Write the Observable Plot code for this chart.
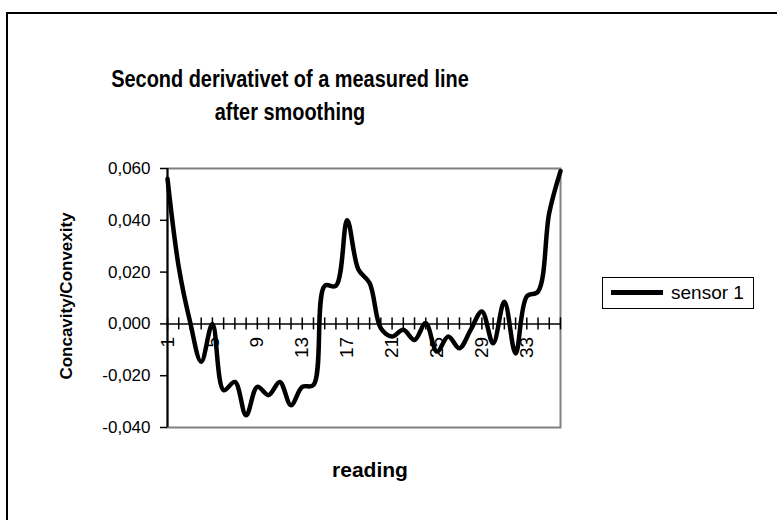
<!DOCTYPE html>
<html>
<head>
<meta charset="utf-8">
<script src="https://cdn.jsdelivr.net/npm/d3@7"></script>
<script src="https://cdn.jsdelivr.net/npm/@observablehq/plot@0.6"></script>
<style>
  html, body { margin: 0; padding: 0; background: #fff; }
  #wrap { position: relative; width: 777px; height: 520px; overflow: hidden; font-family: Arial, "Liberation Sans", sans-serif; }
  #border { position: absolute; left: 6px; top: 12px; width: 900px; height: 700px; border-left: 2px solid #000; border-top: 2px solid #000; }
  #title { position: absolute; left: 40px; width: 500px; top: 62px; text-align: center; font-weight: bold; font-size: 24px; line-height: 33px; color: #000; transform: scaleX(0.83); transform-origin: 250px 0; }
  #ytitle { position: absolute; left: 67px; top: 296px; transform: translate(-50%, -50%) rotate(-90deg); white-space: nowrap; font-weight: bold; font-size: 17px; color: #000; }
  #xtitle { position: absolute; left: 370px; top: 470px; transform: translate(-50%, -50%); white-space: nowrap; font-weight: bold; font-size: 21px; color: #000; }
  #legend { position: absolute; left: 602px; top: 277px; width: 150px; height: 30px; border: 1px solid #000; background: #fff; }
  #legend .sw { position: absolute; left: 8px; top: 12px; width: 52px; height: 5px; background: #000; }
  #legend .lb { position: absolute; left: 68px; top: 3px; font-size: 19px; line-height: 24px; color: #000; }
  #chart { position: absolute; left: 0; top: 0; }
</style>
</head>
<body>
<div id="wrap">
  <div id="border"></div>
  <div id="chart"></div>
  <div id="title">Second derivativet of a measured line<br>after smoothing</div>
  <div id="ytitle">Concavity/Convexity</div>
  <div id="xtitle">reading</div>
  <div id="legend"><div class="sw"></div><div class="lb">sensor 1</div></div>
</div>
<script>
const readings = d3.range(1, 37);
const sensor1 = [0.056, 0.022, 0.001, -0.0146, 0.000, -0.0256, -0.0224, -0.0353, -0.0243, -0.0275,
                 -0.0224, -0.0314, -0.0243, -0.0236, 0.0147, 0.0147, 0.040, 0.021, 0.0158, -0.0017,
                 -0.0049, -0.0023, -0.0062, 0.0003, -0.0107, -0.0049, -0.0094, -0.0023, 0.0048, -0.0075,
                 0.0086, -0.0114, 0.0106, 0.0125, 0.0429, 0.059];
const xTickLabels = [1, 5, 9, 13, 17, 21, 25, 29, 33];
const yTicks = [-0.04, -0.02, 0, 0.02, 0.04, 0.06];

const data = readings.map((r, i) => ({reading: r, value: sensor1[i]}));
const fmt = v => d3.format(".3f")(v).replace("−", "-").replace(".", ",");

const chart = Plot.plot({
  width: 777,
  height: 520,
  marginLeft: 167,
  marginRight: 217,
  marginTop: 168,
  marginBottom: 93,
  style: {fontFamily: 'Arial, "Liberation Sans", sans-serif', background: "transparent", color: "#000"},
  x: {domain: [1, 36], axis: null},
  y: {domain: [-0.04, 0.06], axis: null},
  marks: [
    Plot.frame({stroke: "#808080", strokeWidth: 2}),
    Plot.axisY(yTicks, {tickSize: 7, tickPadding: 10, tickFormat: fmt, fontSize: 17, stroke: "#000", strokeWidth: 1.5, label: null}),
    Plot.ruleX([1], {stroke: "#000", strokeWidth: 2}),
    Plot.ruleY([0], {stroke: "#000", strokeWidth: 1.5}),
    Plot.ruleX(readings, {x: d => d, y1: 0, y2: 0, insetTop: -6, insetBottom: -6, stroke: "#000", strokeWidth: 1.5}),
    Plot.text(xTickLabels, {x: d => d, y: 0, text: d => String(d), rotate: -90, textAnchor: "end", lineAnchor: "middle", dy: 13, fontSize: 19, fill: "#000"}),
    Plot.line(data, {x: "reading", y: "value", curve: "catmull-rom", stroke: "#000", strokeWidth: 4.5, strokeLinejoin: "round", strokeLinecap: "round"})
  ]
});
document.getElementById("chart").appendChild(chart);
</script>
</body>
</html>
